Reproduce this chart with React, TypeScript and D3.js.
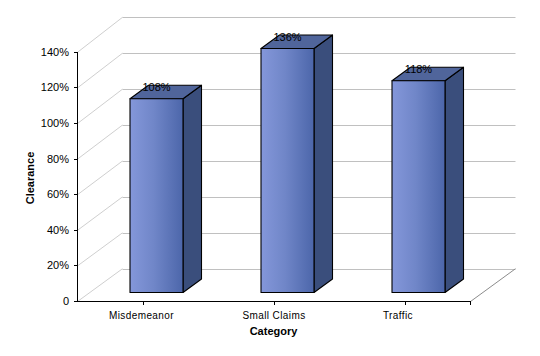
import React from "react";
import * as d3 from "d3";

const categories = ["Misdemeanor", "Small Claims", "Traffic"];
const clearance = [108, 136, 118];
const yTicks = [0, 20, 40, 60, 80, 100, 120, 140];
const yTickLabels = ["0", "20%", "40%", "60%", "80%", "100%", "120%", "140%"];
const barLabels = ["108%", "136%", "118%"];

const W = 540, H = 356;
const FONT = "'Liberation Sans', Arial, sans-serif";
const x = d3.scaleBand<string>().domain(categories).range([77.5, 470.5]);
const y = d3.scaleLinear().domain([0, 140]).range([301.5, 52.3]);
const yBack = d3.scaleLinear().domain([0, 140]).range([268.7, 17.3]);
const yBar = d3.scaleLinear().domain([0, 140]).range([292.5, 41.3]);
const wallDx = 45;
const barDx = 18.5, barDy = 13.5, barW = 53, barOffset = -13;
const catLabelDx = [-1.5, 0, -7];

export default function App() {
  const bw = x.bandwidth();
  return (
    <svg width={W} height={H} viewBox={`0 0 ${W} ${H}`}
      style={{ position: "absolute", left: 0, top: 0, background: "#fff" }} fontFamily={FONT}>
      <defs>
        <linearGradient id="front" x1="0" x2="1" y1="0" y2="0">
          <stop offset="0" stopColor="#8497da" />
          <stop offset="0.45" stopColor="#7086c8" />
          <stop offset="1" stopColor="#4c66aa" />
        </linearGradient>
      </defs>
      {yTicks.map((t) => (
        <g key={t} fill="none" stroke="#c0c0c0" strokeWidth={1}>
          <line x1={77.5} y1={y(t)} x2={77.5 + wallDx} y2={yBack(t)} stroke="#cfcfcf" />
          <line x1={77.5 + wallDx} y1={Math.round(yBack(t)) + 0.5} x2={470.5 + wallDx} y2={Math.round(yBack(t)) + 0.5} />
        </g>
      ))}
      <line x1={470.5} y1={y(0)} x2={470.5 + wallDx} y2={yBack(0)} stroke="#8c8c8c" />
      {categories.map((c, i) => {
        const left = x(c)! + bw / 2 + barOffset;
        const right = left + barW;
        const base = yBar(0);
        const top = yBar(clearance[i]);
        return (
          <g key={c} stroke="#000" strokeWidth={1.1} strokeLinejoin="round">
            <path d={`M${right},${top}L${right + barDx},${top - barDy}L${right + barDx},${base - barDy}L${right},${base}Z`} fill="#3a4e7c" />
            <path d={`M${left},${top}L${left + barDx},${top - barDy}L${right + barDx},${top - barDy}L${right},${top}Z`} fill="#50659b" />
            <rect x={left} y={top} width={barW} height={base - top} fill="url(#front)" />
            <text x={left + barW / 2} y={top - 7.5} textAnchor="middle" fontSize={11} fill="#000" stroke="none">{barLabels[i]}</text>
          </g>
        );
      })}
      <g stroke="#000" strokeWidth={1} shapeRendering="crispEdges">
        <line x1={77.5} y1={y(140) - 0.5} x2={77.5} y2={y(0)} />
        <line x1={74} y1={y(0)} x2={470.5} y2={y(0)} />
        {yTicks.map((t) => (
          <line key={t} x1={74} x2={77.5} y1={y(t)} y2={y(t)} />
        ))}
        {categories.map((c) => (
          <line key={c} x1={x(c)! + bw / 2} x2={x(c)! + bw / 2} y1={y(0)} y2={y(0) + 3} />
        ))}
        <line x1={470.5} x2={470.5} y1={y(0)} y2={y(0) + 3} />
      </g>
      {yTicks.map((t, i) => (
        <text key={t} x={69} y={y(t) + 3.5} textAnchor="end" fontSize={11}>{yTickLabels[i]}</text>
      ))}
      {categories.map((c, i) => (
        <text key={c} x={x(c)! + bw / 2 + catLabelDx[i]} y={319} textAnchor="middle" fontSize={10} letterSpacing={0.4}>{c}</text>
      ))}
      <text x={273.5} y={334.5} textAnchor="middle" fontSize={11} fontWeight="bold">Category</text>
      <text transform="translate(34,178) rotate(-90)" textAnchor="middle" fontSize={11} fontWeight="bold">Clearance</text>
    </svg>
  );
}
